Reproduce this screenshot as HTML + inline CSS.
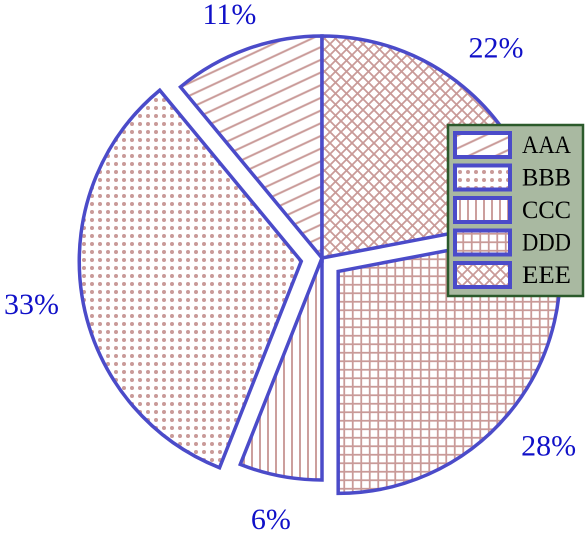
<!DOCTYPE html>
<html><head><meta charset="utf-8"><style>
html,body{margin:0;padding:0;background:#fff;}
svg{display:block;}
</style></head><body>
<svg id="chart" width="586" height="533" viewBox="0 0 586 533" xmlns="http://www.w3.org/2000/svg">
<defs>
  <pattern id="p-aaa" patternUnits="userSpaceOnUse" width="40" height="11.5" patternTransform="rotate(-25)">
    <line x1="0" y1="5.75" x2="40" y2="5.75" stroke="#c99a98" stroke-width="1.9"/>
  </pattern>
  <pattern id="p-bbb" patternUnits="userSpaceOnUse" width="8" height="8">
    <circle cx="4" cy="4" r="2" fill="#c99a98"/>
  </pattern>
  <pattern id="p-ccc" patternUnits="userSpaceOnUse" width="8" height="10">
    <line x1="4" y1="0" x2="4" y2="10" stroke="#c99a98" stroke-width="1.9"/>
  </pattern>
  <pattern id="p-ddd" patternUnits="userSpaceOnUse" width="8.5" height="8.5">
    <line x1="4.25" y1="0" x2="4.25" y2="8.5" stroke="#c99a98" stroke-width="1.8"/>
    <line x1="0" y1="4.25" x2="8.5" y2="4.25" stroke="#c99a98" stroke-width="1.8"/>
  </pattern>
  <pattern id="p-eee" patternUnits="userSpaceOnUse" width="11" height="11">
    <line x1="0" y1="0" x2="11" y2="11" stroke="#c99a98" stroke-width="1.8"/>
    <line x1="11" y1="0" x2="0" y2="11" stroke="#c99a98" stroke-width="1.8"/>
  </pattern>
</defs>
<g id="slices"></g>
<g id="labels"></g>
<g id="legend">
  <rect x="448" y="125" width="135" height="171" fill="#a9b9a1" stroke="#2b5a2b" stroke-width="2.5"/>
</g>
</svg>
<script>
const categories = ["AAA", "BBB", "CCC", "DDD", "EEE"];
const values = [11, 33, 6, 28, 22];
const pctLabels = ["11%", "33%", "6%", "28%", "22%"];
const explodeFlags = [0, 1, 0, 1, 0];

const NS = "http://www.w3.org/2000/svg";
const cx = 322, cy = 258, R = 222, EXP = 21;
const patterns = ["p-aaa", "p-bbb", "p-ccc", "p-ddd", "p-eee"];
const edge = "#4b4bc9";
const total = values.reduce((a, b) => a + b, 0);
const sliceG = document.getElementById("slices");
const labelG = document.getElementById("labels");
function pt(x0, y0, r, deg) {
  const a = deg * Math.PI / 180;
  return [x0 + r * Math.cos(a), y0 - r * Math.sin(a)];
}
let start = 90;
values.forEach((v, i) => {
  const sweep = v / total * 360;
  const end = start + sweep;
  const mid = start + sweep / 2;
  const off = explodeFlags[i] ? EXP : 0;
  const [ox, oy] = pt(cx, cy, off, mid);
  const [x1, y1] = pt(ox, oy, R, start);
  const [x2, y2] = pt(ox, oy, R, end);
  const large = sweep > 180 ? 1 : 0;
  const d = `M${ox},${oy} L${x1},${y1} A${R},${R} 0 ${large} 0 ${x2},${y2} Z`;
  const p = document.createElementNS(NS, "path");
  p.setAttribute("d", d);
  p.setAttribute("fill", "#fff");
  p.setAttribute("stroke", "none");
  sliceG.appendChild(p);
  const h = document.createElementNS(NS, "path");
  h.setAttribute("d", d);
  h.setAttribute("fill", "url(#" + patterns[i] + ")");
  h.setAttribute("stroke", edge);
  h.setAttribute("stroke-width", "3.5");
  h.setAttribute("stroke-linejoin", "miter");
  
  
  sliceG.appendChild(h);
  let [lx, ly] = pt(ox, oy, R * 1.23, mid);
  ly = Math.min(Math.max(ly, 14), 519);
  lx = Math.min(Math.max(lx, 28), 556);
  const t = document.createElementNS(NS, "text");
  t.setAttribute("x", lx);
  t.setAttribute("y", ly + 10);
  t.setAttribute("text-anchor", "middle");
  t.setAttribute("font-family", "Liberation Serif, serif");
  t.setAttribute("font-size", "30");
  t.setAttribute("fill", "#1010c8");
  t.textContent = pctLabels[i];
  
  
  labelG.appendChild(t);
  start = end;
});
const legendG = document.getElementById("legend");
categories.forEach((c, i) => {
  const y = 131 + i * 32.5;
  const r1 = document.createElementNS(NS, "rect");
  r1.setAttribute("x", 455); r1.setAttribute("y", y + 2);
  r1.setAttribute("width", 55); r1.setAttribute("height", 24);
  r1.setAttribute("fill", "#fff");
  legendG.appendChild(r1);
  const r2 = document.createElementNS(NS, "rect");
  r2.setAttribute("x", 455); r2.setAttribute("y", y + 2);
  r2.setAttribute("width", 55); r2.setAttribute("height", 24);
  r2.setAttribute("fill", "url(#" + patterns[i] + ")");
  r2.setAttribute("stroke", edge);
  r2.setAttribute("stroke-width", "4");
  
  
  legendG.appendChild(r2);
  const t = document.createElementNS(NS, "text");
  t.setAttribute("x", 522);
  t.setAttribute("y", y + 22);
  t.setAttribute("font-family", "Liberation Serif, serif");
  t.setAttribute("font-size", "25");
  t.setAttribute("fill", "#000");
  t.setAttribute("textLength", "49");
  t.setAttribute("lengthAdjust", "spacingAndGlyphs");
  t.textContent = c;
  
  
  legendG.appendChild(t);
});
</script>
</body></html>
